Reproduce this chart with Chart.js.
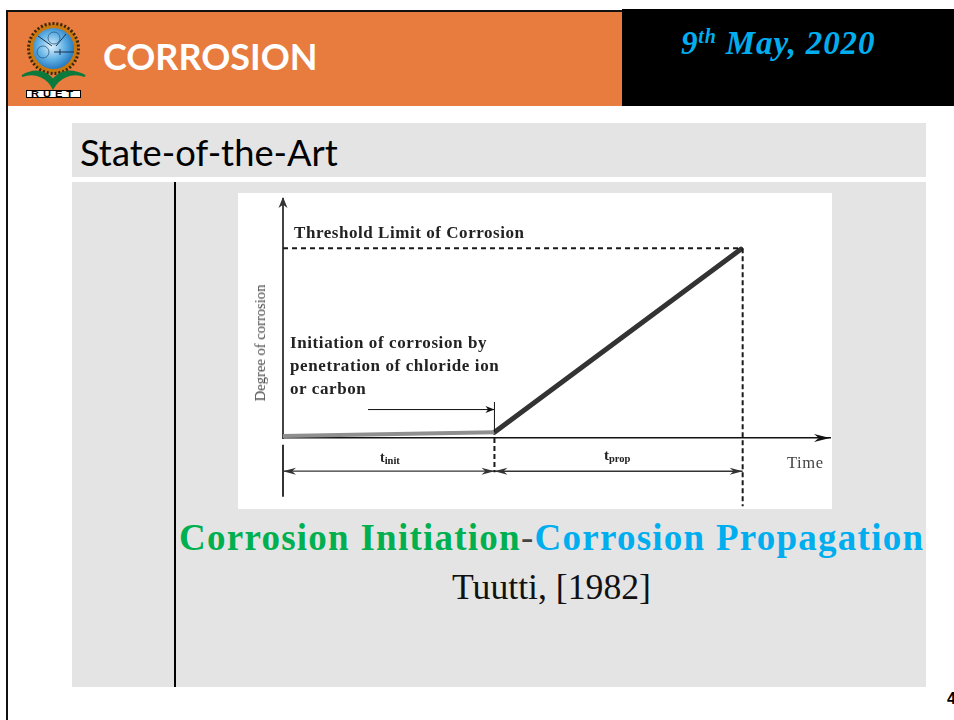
<!DOCTYPE html>
<html><head><meta charset="utf-8">
<script src="https://cdn.jsdelivr.net/npm/chart.js@4/dist/chart.umd.min.js"></script>
<style>
html,body{margin:0;padding:0;background:#fff;width:954px;height:720px;overflow:hidden}
.a{position:absolute;white-space:nowrap}
#frameL{left:6px;top:10px;width:2px;height:710px;background:#111}
#frameT{left:6px;top:10px;width:616px;height:2px;background:#111}
#orange{left:8px;top:12px;width:614px;height:94px;background:#e87b3e}
#black{left:622px;top:9px;width:332px;height:97px;background:#000}
#title{left:103px;top:32px;font:700 36px/48px Lato,sans-serif;color:#fff}
#date{left:681px;top:21px;font:italic 700 33px/44px "Liberation Serif",serif;color:#00aeef;letter-spacing:.85px}
#date sup{font-size:20px;line-height:0;vertical-align:11px}
#bar1{left:72px;top:123px;width:854px;height:54px;background:#e4e4e4}
#bar2{left:72px;top:182px;width:854px;height:505px;background:#e4e4e4}
#vline{left:174px;top:182px;width:2px;height:505px;background:#000}
#heading{left:80px;top:129px;font:400 36.3px/46px Lato,sans-serif;color:#000}
#chartBox{left:238px;top:193px;width:594px;height:316px;background:#fff}
.t{font-family:"Liberation Serif",serif;color:#222;font-weight:700}
#l1{left:294px;top:223px;font-size:17px;line-height:20px;letter-spacing:.55px}
#l2{left:290px;top:331px;font-size:17px;line-height:23px;letter-spacing:.6px}
#l3{left:380px;top:450px;font-size:14px;line-height:16px}
#l4{left:604px;top:447px;font-size:15px;line-height:16px}
#l5{left:787px;top:454px;font-size:16.5px;line-height:18px;font-weight:400;color:#444;letter-spacing:.6px}
#yt{left:260px;top:343px;font-size:14.6px;line-height:16px;font-weight:400;color:#444;transform:translate(-50%,-50%) rotate(-90deg)}
.t sub{font-size:10.5px;line-height:0;vertical-align:-2px}
#cap{left:179px;top:516px;font:700 37px/44px "Liberation Serif",serif;letter-spacing:1.25px}
#cap .g{color:#00b050}#cap .b{color:#00aeef}#cap .k{font-weight:400;color:#444}
#cite{left:452px;top:564px;font:400 35.7px/46px "Liberation Serif",serif;color:#111}
#pg{left:947px;top:689px;font:700 16px/20px "Liberation Sans",sans-serif;color:#000}
svg{position:absolute;left:0;top:0}
</style></head><body>
<div class="a" id="orange"></div><div class="a" id="black"></div>
<div class="a" id="frameL"></div><div class="a" id="frameT"></div>
<svg width="110" height="106" viewBox="0 0 110 106">
<defs><radialGradient id="gl" cx="45%" cy="45%" r="60%"><stop offset="0" stop-color="#dff1fb"/><stop offset=".55" stop-color="#5fb0e4"/><stop offset="1" stop-color="#1c6fb8"/></radialGradient></defs>
<circle cx="53.500" cy="48.500" r="25" fill="#c9780f" stroke="#3a2508" stroke-width="3" stroke-dasharray="2 2"/>
<circle cx="53.500" cy="48.500" r="20.500" fill="url(#gl)"/>
<path d="M54 52h20M60 49v6M38 36l14 10M66 34l-10 12" stroke="#16304f" stroke-width="1" fill="none"/>
<circle cx="43" cy="52" r="6" fill="none" stroke="#2a5a86" stroke-width=".8"/>
<circle cx="54" cy="38" r="6" fill="none" stroke="#2a5a86" stroke-width=".8"/>
<path d="M53 88C48 78 36 71 22 76C32 70 45 69 53 80C61 69 74 70 85 76C70 71 59 78 53 88Z" fill="#0c7a3c" stroke="#0c7a3c" stroke-width="2"/>
<rect x="26.500" y="90.500" width="54" height="7" fill="#fff" stroke="#000"/>
<text x="54" y="97" text-anchor="middle" font-family="Liberation Sans" font-weight="700" font-size="8.500" letter-spacing="3" textLength="46" lengthAdjust="spacingAndGlyphs">RUET</text>
</svg>
<div class="a" id="title">CORROSION</div>
<div class="a" id="date">9<sup>th</sup> May, 2020</div>
<div class="a" id="bar1"></div><div class="a" id="bar2"></div><div class="a" id="vline"></div>
<div class="a" id="heading">State-of-the-Art</div>
<div class="a" id="chartBox"><canvas id="c" width="594" height="316"></canvas></div>
<div class="a t" id="yt">Degree of corrosion</div>
<div class="a t" id="l1">Threshold Limit of Corrosion</div>
<div class="a t" id="l2">Initiation of corrosion by<br>penetration of chloride ion<br>or carbon</div>
<div class="a t" id="l3">t<sub>init</sub></div>
<div class="a t" id="l4">t<sub>prop</sub></div>
<div class="a t" id="l5">Time</div>
<div class="a" id="cap"><span class="g">Corrosion Initiation</span><span class="k">-</span><span class="b">Corrosion Propagation</span></div>
<div class="a" id="cite">Tuutti, [1982]</div>
<div class="a" id="pg">4</div>
<script>
// Values: time and degree, threshold = 100, end of propagation = 100
const initiationTime = [0, 46];
const initiationDegree = [1, 3];
const propagationTime = [46, 99.600];
const propagationDegree = [3, 99.500];
const thresholdTime = [0, 100];
const thresholdDegree = [100, 100];
const endDropTime = [100, 100];
const endDropDegree = [100, -36];
const initDropTime = [46, 46];
const initDropDegree = [0, -18];
const initMarkTime = [46, 46];
const initMarkDegree = [3, 19];
const pointerTime = [18.5, 46];
const pointerDegree = [15, 15];
const tInitTime = [0, 46];
const tInitDegree = [-17.500, -17.500];
const tPropTime = [46, 100];
const tPropDegree = [-17.500, -17.500];
const startMarkTime = [0, 0];
const startMarkDegree = [-3.500, -31];
const timeMax = 119;
const degreeMax = 126;

const xy = (xs, ys) => xs.map((x, i) => ({x, y: ys[i]}));
const ln = (label, xs, ys, color, width, extra) => Object.assign({
  label, data: xy(xs, ys), borderColor: color, backgroundColor: color, borderWidth: width,
  pointRadius: 0, showLine: true, tension: 0, clip: false, borderCapStyle: 'butt'
}, extra || {});

// Stealth arrowheads at the ends of flagged datasets, placed through the chart's scales
function stealth(ctx, x, y, dir, len, half, color) {
  ctx.save();
  ctx.translate(x, y);
  ctx.rotate(dir);
  ctx.fillStyle = color;
  ctx.beginPath();
  ctx.moveTo(0, 0);
  ctx.lineTo(-len, -half);
  ctx.lineTo(-len * 0.7, 0);
  ctx.lineTo(-len, half);
  ctx.closePath();
  ctx.fill();
  ctx.restore();
}
const arrowPlugin = {
  id: 'arrowEnds',
  afterDatasetsDraw(chart) {
    const {ctx, scales: {x, y}} = chart;
    chart.data.datasets.forEach(ds => {
      if (!ds.arrows) return;
      const pts = ds.data.map(p => [x.getPixelForValue(p.x), y.getPixelForValue(p.y)]);
      const a = pts[0], b = pts[pts.length - 1];
      const dir = Math.atan2(b[1] - a[1], b[0] - a[0]);
      if (ds.arrows.includes('end')) stealth(ctx, b[0], b[1], dir, ds.arrowLen, ds.arrowHalf, ds.borderColor);
      if (ds.arrows.includes('start')) stealth(ctx, a[0], a[1], dir + Math.PI, ds.arrowLen, ds.arrowHalf, ds.borderColor);
    });
  }
};
new Chart(document.getElementById('c'), {
  type: 'scatter',
  plugins: [arrowPlugin],
  data: {datasets: [
    ln('Threshold', thresholdTime, thresholdDegree, '#1a1a1a', 2, {borderDash: [5, 4]}),
    ln('End of propagation', endDropTime, endDropDegree, '#1a1a1a', 2, {borderDash: [5, 3]}),
    ln('End of initiation', initDropTime, initDropDegree, '#1a1a1a', 2, {borderDash: [5, 3]}),
    ln('Initiation mark', initMarkTime, initMarkDegree, '#111', 1),
    ln('Pointer', pointerTime, pointerDegree, '#111', 1, {arrows: ['end'], arrowLen: 9, arrowHalf: 3.500}),
    ln('t init', tInitTime, tInitDegree, '#333', 1.3, {arrows: ['start', 'end'], arrowLen: 13, arrowHalf: 3.500}),
    ln('t prop', tPropTime, tPropDegree, '#333', 1.6, {arrows: ['start', 'end'], arrowLen: 13, arrowHalf: 3.500}),
    ln('Start mark', startMarkTime, startMarkDegree, '#333', 2),
    ln('Initiation', initiationTime, initiationDegree, '#8f8f8f', 4),
    ln('Propagation', propagationTime, propagationDegree, '#333', 5, {borderCapStyle: 'round'}),
    ln('Y head', [0, 0], [degreeMax - 5, degreeMax + 1], '#333', 0, {showLine: false, arrows: ['end'], arrowLen: 11, arrowHalf: 4.500}),
    ln('X head', [timeMax - 5, timeMax], [0, 0], '#111', 0, {showLine: false, arrows: ['end'], arrowLen: 16, arrowHalf: 4})
  ]},
  options: {
    responsive: false, animation: false, events: [],
    layout: {padding: {left: 45, right: 2, top: 6, bottom: 71}},
    plugins: {legend: {display: false}, tooltip: {enabled: false}},
    scales: {
      x: {type: 'linear', min: 0, max: timeMax,
        grid: {display: false, drawTicks: false},
        border: {display: true, color: '#111', width: 1.5},
        ticks: {display: false}},
      y: {type: 'linear', min: 0, max: degreeMax,
        grid: {display: false, drawTicks: false},
        border: {display: true, color: '#444', width: 2},
        ticks: {display: false}}
    }
  }
});
</script>
</body></html>
